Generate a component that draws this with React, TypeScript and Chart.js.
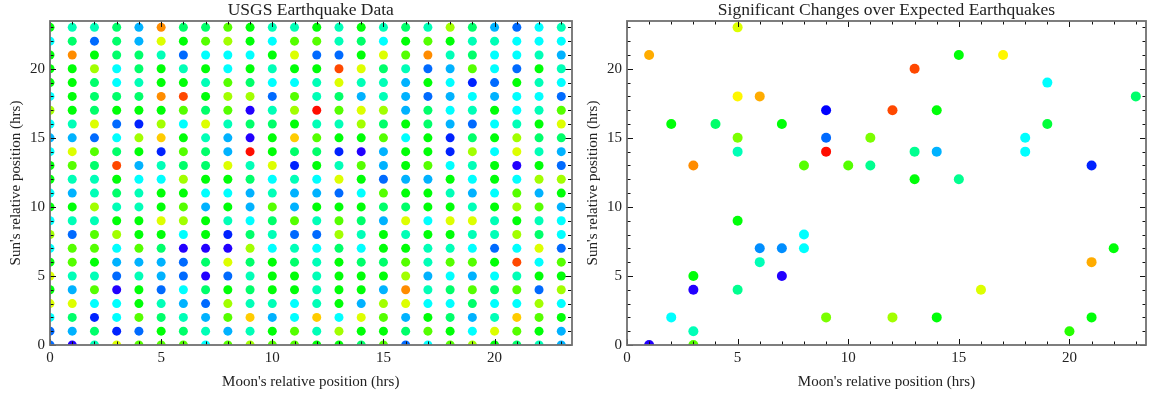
import React, { useEffect, useRef } from "react";
import { Chart, registerables } from "chart.js";

Chart.register(...registerables);

// ---------- DATA ----------
const moonHours = [0, 1, 2, 3, 4, 5, 6, 7, 8, 9, 10, 11, 12, 13, 14, 15, 16, 17, 18, 19, 20, 21, 22, 23];
const sunHoursDesc = [23, 22, 21, 20, 19, 18, 17, 16, 15, 14, 13, 12, 11, 10, 9, 8, 7, 6, 5, 4, 3, 2, 1, 0];

// colour level per cell (0 = violet-blue ... 14 = red), one row per sun hour (23 down to 0)
const usgsLevels = [
  [7, 5, 5, 6, 3, 12, 6, 6, 8, 7, 5, 5, 7, 5, 7, 5, 6, 5, 9, 6, 3, 2, 4, 5],
  [4, 6, 2, 6, 3, 10, 7, 8, 9, 7, 4, 8, 8, 5, 6, 4, 7, 8, 7, 5, 5, 4, 4, 4],
  [7, 12, 7, 6, 6, 5, 2, 4, 4, 4, 7, 10, 2, 2, 7, 10, 8, 12, 5, 6, 4, 4, 5, 3],
  [7, 7, 9, 4, 6, 7, 5, 7, 4, 7, 5, 7, 7, 13, 10, 6, 5, 2, 3, 8, 4, 2, 7, 5],
  [7, 7, 6, 4, 5, 7, 7, 5, 8, 6, 4, 4, 5, 10, 5, 5, 3, 7, 4, 1, 2, 7, 5, 4],
  [4, 7, 6, 6, 6, 12, 13, 7, 9, 9, 2, 8, 5, 6, 3, 5, 3, 2, 3, 4, 3, 4, 4, 2],
  [9, 7, 6, 7, 7, 7, 8, 6, 8, 0, 5, 9, 14, 8, 10, 9, 3, 6, 4, 5, 7, 4, 5, 8],
  [4, 5, 10, 2, 1, 9, 4, 10, 5, 6, 6, 7, 5, 5, 9, 6, 7, 6, 3, 2, 4, 5, 7, 10],
  [3, 3, 2, 4, 9, 11, 7, 5, 3, 0, 7, 11, 8, 7, 7, 8, 4, 7, 1, 6, 7, 9, 6, 6],
  [4, 10, 8, 6, 7, 1, 8, 6, 3, 14, 7, 6, 6, 1, 0, 3, 7, 7, 1, 9, 4, 10, 5, 3],
  [7, 8, 6, 13, 3, 5, 6, 6, 10, 5, 10, 1, 7, 5, 8, 3, 7, 8, 4, 5, 7, 0, 7, 2],
  [7, 5, 5, 7, 4, 4, 9, 7, 7, 6, 4, 5, 4, 10, 7, 2, 3, 3, 7, 4, 7, 4, 9, 9],
  [4, 3, 5, 6, 5, 7, 7, 4, 4, 3, 5, 3, 3, 2, 4, 8, 7, 7, 5, 3, 4, 8, 3, 7],
  [7, 7, 9, 5, 5, 7, 8, 3, 7, 3, 8, 3, 7, 7, 7, 6, 6, 7, 7, 5, 7, 9, 8, 3],
  [4, 5, 5, 7, 7, 10, 9, 7, 5, 4, 6, 8, 5, 8, 6, 3, 10, 4, 10, 10, 5, 7, 5, 4],
  [9, 2, 8, 9, 7, 7, 4, 7, 1, 6, 5, 2, 2, 9, 5, 7, 5, 7, 7, 5, 5, 9, 6, 4],
  [4, 8, 8, 4, 8, 6, 0, 0, 0, 9, 4, 5, 4, 6, 4, 7, 7, 5, 5, 4, 2, 4, 10, 2],
  [7, 8, 7, 3, 3, 3, 2, 6, 10, 6, 7, 6, 5, 7, 6, 6, 8, 5, 8, 8, 7, 13, 4, 8],
  [10, 5, 5, 2, 5, 3, 2, 0, 2, 5, 7, 7, 5, 7, 7, 7, 9, 3, 4, 3, 4, 5, 7, 7],
  [7, 3, 8, 0, 7, 2, 4, 6, 7, 6, 7, 7, 5, 7, 7, 3, 12, 5, 6, 8, 6, 8, 2, 9],
  [10, 10, 4, 4, 7, 5, 3, 2, 9, 5, 5, 4, 5, 7, 3, 9, 10, 4, 4, 6, 4, 4, 9, 4],
  [4, 6, 1, 4, 8, 6, 5, 3, 8, 11, 3, 4, 11, 4, 10, 8, 3, 7, 6, 3, 5, 11, 8, 7],
  [2, 3, 6, 1, 2, 7, 6, 5, 3, 5, 7, 8, 5, 9, 7, 7, 6, 8, 7, 4, 10, 8, 7, 3],
  [2, 0, 5, 10, 8, 8, 8, 4, 8, 9, 8, 8, 7, 7, 6, 8, 2, 4, 8, 9, 7, 6, 5, 3],
];

// significant changes
const sigMoon = [1, 5, 5, 6, 9, 12, 2, 4, 7, 5, 9, 11, 5, 9, 3, 8, 10, 11, 5, 8, 6, 7, 8, 6, 7, 3, 3, 5, 2, 9, 12, 3, 1, 3,
  13, 15, 17, 19, 23, 14, 19, 18, 18, 13, 14, 21, 13, 15, 22, 21, 16, 14, 21, 20];
const sigSun = [21, 23, 18, 18, 17, 17, 16, 16, 16, 15, 15, 15, 14, 14, 13, 13, 13, 13, 9, 8, 7, 7, 7, 6, 5, 5, 4, 4, 2, 2, 2, 1, 0, 0,
  20, 21, 21, 19, 18, 17, 16, 15, 14, 14, 14, 13, 12, 12, 7, 6, 4, 2, 2, 1];
const sigLevel = [11.5, 10, 10.5, 11.5, 0.5, 13, 7, 6, 7, 8.5, 2, 8.5, 5, 14, 12, 8, 8, 5.5, 7, 4, 2.5, 2.5, 4, 5, 0, 7, 0, 5.5, 4, 8.5, 9, 5, 0, 8,
  13, 7, 10.5, 4, 6, 7, 6.5, 4, 4, 5.5, 3, 1, 7, 5.5, 7, 11.5, 10, 7, 7, 7.5];

const labelTicks = [0, 5, 10, 15, 20];
const frameTicks = [0, 1, 2, 3, 4, 5, 6, 7, 8, 9, 10, 11, 12, 13, 14, 15, 16, 17, 18, 19, 20, 21, 22, 23];

// ---------- STYLE ----------
const HUES = [248, 232, 215, 198, 180, 163, 145, 122, 100, 82, 68, 48, 33, 17, 3];
function levelColor(v: number): string {
  const i = Math.min(Math.floor(v), HUES.length - 1);
  const f = v - i;
  const h = i >= HUES.length - 1 ? HUES[i] : HUES[i] * (1 - f) + HUES[i + 1] * f;
  return `hsl(${h.toFixed(1)},100%,50%)`;
}

const SERIF = "'Liberation Serif', 'Times New Roman', serif";
const TEXT = "#222";
const AXIS_MAX = 23.46;

const framePlugin = {
  id: "mmaFrame",
  afterDatasetsDraw(chart: any) {
    const { ctx, chartArea: a, scales } = chart;
    const xs = scales.x;
    const ys = scales.y;
    ctx.save();
    ctx.strokeStyle = "#111";
    ctx.lineWidth = 1;
    ctx.beginPath();
    for (const t of frameTicks) {
      const len = t % 5 === 0 ? 6 : 3.5;
      const px = Math.round(xs.getPixelForValue(t)) + 0.5;
      ctx.moveTo(px, a.bottom);
      ctx.lineTo(px, a.bottom - len);
      ctx.moveTo(px, a.top);
      ctx.lineTo(px, a.top + len);
      const py = Math.round(ys.getPixelForValue(t)) + 0.5;
      ctx.moveTo(a.left, py);
      ctx.lineTo(a.left + len, py);
      ctx.moveTo(a.right, py);
      ctx.lineTo(a.right - len, py);
    }
    ctx.stroke();
    ctx.strokeStyle = "#707070";
    ctx.lineWidth = 1.8;
    ctx.strokeRect(Math.round(a.left), Math.round(a.top), Math.round(a.right - a.left), Math.round(a.bottom - a.top));
    ctx.restore();
  },
};

type PanelProps = {
  left: number;
  width: number;
  title: string;
  points: { x: number; y: number }[];
  colors: string[];
  radius: number;
  yAxisWidth: number;
  yTitlePad: number;
  rightPad: number;
};

function Panel(p: PanelProps) {
  const ref = useRef<HTMLCanvasElement | null>(null);
  useEffect(() => {
    if (!ref.current) return;
    const chart = new Chart(ref.current, {
      type: "scatter",
      data: {
        datasets: [
          {
            data: p.points,
            pointBackgroundColor: p.colors,
            pointBorderWidth: 0,
            pointRadius: p.radius,
            pointHoverRadius: p.radius,
            clip: 0,
          } as any,
        ],
      },
      options: {
        animation: false,
        responsive: false,
        devicePixelRatio: 1,
        events: [],
        layout: { padding: { left: 0, right: p.rightPad, top: 0, bottom: 0 } },
        plugins: {
          legend: { display: false },
          tooltip: { enabled: false },
          title: {
            display: true,
            text: p.title,
            fullSize: false,
            color: TEXT,
            font: { family: SERIF, size: 17.5, weight: "normal" as any, lineHeight: 1.2 },
            padding: { top: 0, bottom: 0 },
          },
        },
        scales: {
          x: {
            type: "linear",
            min: 0,
            max: AXIS_MAX,
            afterBuildTicks: (s: any) => {
              s.ticks = labelTicks.map((v) => ({ value: v }));
            },
            afterFit: (s: any) => {
              s.height = 51;
            },
            grid: { display: false, drawTicks: false },
            border: { display: false },
            ticks: { color: TEXT, font: { family: SERIF, size: 15 }, padding: 4, maxRotation: 0, autoSkip: false },
            title: {
              display: true,
              text: "Moon's relative position (hrs)",
              color: TEXT,
              font: { family: SERIF, size: 15 },
              padding: { top: 0, bottom: 4.5 },
            },
          },
          y: {
            type: "linear",
            min: 0,
            max: AXIS_MAX,
            afterBuildTicks: (s: any) => {
              s.ticks = labelTicks.map((v) => ({ value: v }));
            },
            afterFit: (s: any) => {
              s.width = p.yAxisWidth;
            },
            grid: { display: false, drawTicks: false },
            border: { display: false },
            ticks: { color: TEXT, font: { family: SERIF, size: 15 }, padding: 5 },
            title: {
              display: true,
              text: "Sun's relative position (hrs)",
              color: TEXT,
              font: { family: SERIF, size: 15 },
              padding: { top: p.yTitlePad, bottom: 0 },
            },
          },
        },
      },
      plugins: [framePlugin],
    } as any);
    return () => chart.destroy();
  }, []);
  return (
    <canvas
      ref={ref}
      width={p.width}
      height={396}
      style={{ position: "absolute", left: p.left, top: 0, width: p.width, height: 396 }}
    />
  );
}

export default function App() {
  const gridPoints: { x: number; y: number }[] = [];
  const gridColors: string[] = [];
  sunHoursDesc.forEach((sun, r) => {
    moonHours.forEach((moon, c) => {
      gridPoints.push({ x: moon, y: sun });
      gridColors.push(levelColor(usgsLevels[r][c]));
    });
  });
  const sigPoints = sigMoon.map((m, i) => ({ x: m, y: sigSun[i] }));
  const sigColors = sigLevel.map((v) => levelColor(v));

  return (
    <div style={{ position: "fixed", left: 0, top: 0, width: 1151, height: 396, background: "#fff", overflow: "hidden" }}>
      <Panel
        left={0}
        width={576}
        title="USGS Earthquake Data"
        points={gridPoints}
        colors={gridColors}
        radius={4.5}
        yAxisWidth={50}
        yTitlePad={7}
        rightPad={3}
      />
      <Panel
        left={576}
        width={575}
        title="Significant Changes over Expected Earthquakes"
        points={sigPoints}
        colors={sigColors}
        radius={5}
        yAxisWidth={51}
        yTitlePad={8}
        rightPad={2}
      />
    </div>
  );
}
